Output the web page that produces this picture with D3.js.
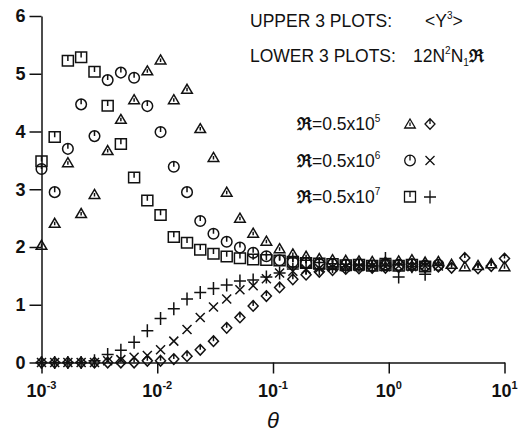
<!DOCTYPE html>
<html>
<head>
<meta charset="utf-8">
<script src="https://cdn.jsdelivr.net/npm/d3@7"></script>
<style>
  body { margin: 0; background: #fff; }
  text { font-family: "Liberation Sans", Arial, Helvetica, sans-serif; fill: #111; }
</style>
</head>
<body>
<div id="chart"></div>
<script>
// theta grid (log spaced, same for every run)
const theta = [0.001, 0.0013, 0.00169, 0.0022, 0.00287, 0.00373, 0.00485, 0.00631, 0.00821,
  0.01068, 0.0139, 0.01808, 0.02352, 0.0306, 0.03981, 0.0518, 0.06739, 0.08767, 0.114,
  0.1484, 0.1931, 0.2512, 0.3268, 0.4251, 0.5532, 0.7197, 0.9363, 1.218, 1.585, 2.062,
  2.683, 3.49, 4.541, 5.905, 7.684, 10];

// upper plots: <Y^3>
const triUpper = [2.03, 2.41, 3.46, 2.58, 2.91, 3.67, 4.21, 4.55, 5.05, 5.24, 4.55, 4.73, 4.05, 3.55,
  2.95, 2.50, 2.24, 2.10, 1.97, 1.88, 1.84, 1.80, 1.78, 1.77, 1.76, 1.75, 1.74, 1.76, 1.78, 1.74,
  1.75, 1.70, 1.66, 1.68, 1.71, 1.66];
const circUpper = [3.35, 2.95, 3.70, 4.47, 3.92, 4.89, 5.02, 4.93, 4.44, 3.99, 3.39, 2.95, 2.45, 2.23,
  2.09, 1.99, 1.90, 1.84, 1.77, 1.74, 1.72, 1.70, 1.70, 1.69, 1.70, 1.68, 1.70, 1.69, 1.70, 1.68, 1.69];
const sqUpper = [3.48, 3.90, 5.22, 5.28, 5.03, 4.44, 3.78, 3.20, 2.80, 2.55, 2.17, 2.07, 1.95, 1.88,
  1.83, 1.80, 1.78, 1.77, 1.76, 1.74, 1.72, 1.71, 1.70, 1.68, 1.69, 1.67, 1.68, 1.67, 1.69, 1.66];

// lower plots: 12 N^2 N1 R
const diaLower = [0, 0, 0, 0, 0, 0, 0, 0, 0.03, 0.03, 0.06, 0.11, 0.22, 0.37, 0.60, 0.78, 0.98, 1.15,
  1.30, 1.44, 1.52, 1.57, 1.60, 1.62, 1.63, 1.64, 1.64, 1.65, 1.66, 1.65, 1.66, 1.64, 1.81, 1.63,
  1.67, 1.80];
const crossLower = [0, 0, 0, 0, 0, 0.03, 0.05, 0.09, 0.12, 0.22, 0.37, 0.57, 0.78, 0.96, 1.10, 1.26,
  1.33, 1.45, 1.55, 1.58, 1.62, 1.63, 1.65, 1.66, 1.66, 1.67, 1.66, 1.67, 1.66, 1.67, 1.67];
const plusLower = [0, 0, 0, 0, 0.03, 0.14, 0.21, 0.35, 0.55, 0.76, 0.93, 1.10, 1.21, 1.28, 1.34, 1.41,
  1.43, 1.48, 1.55, 1.62, 1.64, 1.62, 1.66, 1.66, 1.68, 1.66, 1.80, 1.48, 1.66, 1.53];

const yTicks = [0, 1, 2, 3, 4, 5, 6];
const xTicks = [1e-3, 1e-2, 1e-1, 1, 10];
const xTickExp = ["-3", "-2", "-1", "0", "1"];
const legendR = ["5", "6", "7"];

const width = 522, height = 434;

const svg = d3.select("#chart")
  .append("svg")
  .attr("width", width)
  .attr("height", height);

const x = d3.scaleLog().domain([1e-3, 10]).range([41.5, 504.5]);
const y = d3.scaleLinear().domain([0, 6]).range([362.5, 16]);

// marker shapes, all with the little tick mark from the top
const shapes = {
  tri: "M0,-5L5.3,4L-5.3,4Z M0,-1.5V2",
  circ: "M5.3,0A5.3,5.3 0 1,1 -5.3,0A5.3,5.3 0 1,1 5.3,0Z M0,-5.3V0",
  sq: "M-5.5,-5.5H5.5V5H-5.5Z M0,-5.5V0",
  dia: "M0,-5.3L5,0L0,5.3L-5,0Z M0,-5.3V0",
  cross: "M-4.5,-4.5L4.5,4.5M-4.5,4.5L4.5,-4.5",
  plus: "M-6,0H6M0,-6.5V6.5"
};

const series = [
  { data: triUpper, shape: "tri" },
  { data: circUpper, shape: "circ" },
  { data: sqUpper, shape: "sq" },
  { data: diaLower, shape: "dia" },
  { data: crossLower, shape: "cross" },
  { data: plusLower, shape: "plus" }
];

// axes
const yAxis = svg.append("g")
  .attr("transform", `translate(${x(1e-3)},0)`)
  .call(d3.axisLeft(y).tickValues(yTicks).tickSize(12).tickSizeOuter(0).tickPadding(4)
    .tickFormat(d3.format("d")));

yAxis.selectAll("text")
  .attr("font-size", "18px")
  .attr("font-weight", "bold")
  .attr("fill", "#111")
  .style("font-family", "'Liberation Sans', Arial, sans-serif");

const xAxis = svg.append("g")
  .attr("transform", `translate(0,${y(0)})`)
  .call(d3.axisBottom(x).tickValues(xTicks).tickSize(11).tickSizeOuter(0).tickFormat(""));

svg.selectAll(".domain, .tick line")
  .attr("stroke", "#111")
  .attr("stroke-width", 1.5);

// x tick labels 10^n
const xLab = svg.append("g").selectAll("text")
  .data(xTicks)
  .enter().append("text")
  .attr("x", d => x(d))
  .attr("y", 397)
  .attr("text-anchor", "middle")
  .attr("font-size", "18px")
  .attr("font-weight", "bold");
xLab.append("tspan").text("10");
xLab.append("tspan")
  .attr("dy", -8)
  .attr("font-size", "11px")
  .text((d, i) => xTickExp[i]);

svg.append("text")
  .attr("x", 273)
  .attr("y", 428)
  .attr("text-anchor", "middle")
  .attr("font-size", "22px")
  .attr("font-style", "italic")
  .text("θ");

// data markers
series.forEach(s => {
  svg.append("g")
    .selectAll("path")
    .data(s.data)
    .enter().append("path")
    .attr("transform", (d, i) => `translate(${x(theta[i])},${y(d)})`)
    .attr("d", shapes[s.shape])
    .attr("fill", "none")
    .attr("stroke", "#111")
    .attr("stroke-width", 1.5);
});

// annotation text
const t1 = svg.append("text").attr("x", 250).attr("y", 27).attr("font-size", "17.5px");
t1.append("tspan").text("UPPER 3 PLOTS:");
t1.append("tspan").attr("x", 425).text("<Y");
t1.append("tspan").attr("dy", -8).attr("font-size", "10px").text("3");
t1.append("tspan").attr("dy", 8).text(">");

const t2 = svg.append("text").attr("x", 250).attr("y", 62).attr("font-size", "17.5px");
t2.append("tspan").text("LOWER 3 PLOTS:");
t2.append("tspan").attr("x", 413).text("12N");
t2.append("tspan").attr("dy", -8).attr("font-size", "10px").text("2");
t2.append("tspan").attr("dy", 8).text("N");
t2.append("tspan").attr("dy", 4).attr("font-size", "10px").text("1");
t2.append("tspan").attr("dy", -4).attr("font-weight", "bold").text("ℜ");

// legend
const legRows = [["tri", "dia"], ["circ", "cross"], ["sq", "plus"]];
const legY = d3.scalePoint().domain([0, 1, 2]).range([124, 197]);

legRows.forEach((row, i) => {
  const ly = legY(i);
  const lt = svg.append("text").attr("x", 297).attr("y", ly + 6).attr("font-size", "17.5px");
  lt.append("tspan").attr("font-weight", "bold").text("ℜ");
  lt.append("tspan").text("=0.5x10");
  lt.append("tspan").attr("dy", -8).attr("font-size", "10px").text(legendR[i]);
  row.forEach((shape, j) => {
    svg.append("path")
      .attr("transform", `translate(${410 + j * 20},${ly})`)
      .attr("d", shapes[shape])
      .attr("fill", "none")
      .attr("stroke", "#111")
      .attr("stroke-width", 1.3);
  });
});
</script>
</body>
</html>
